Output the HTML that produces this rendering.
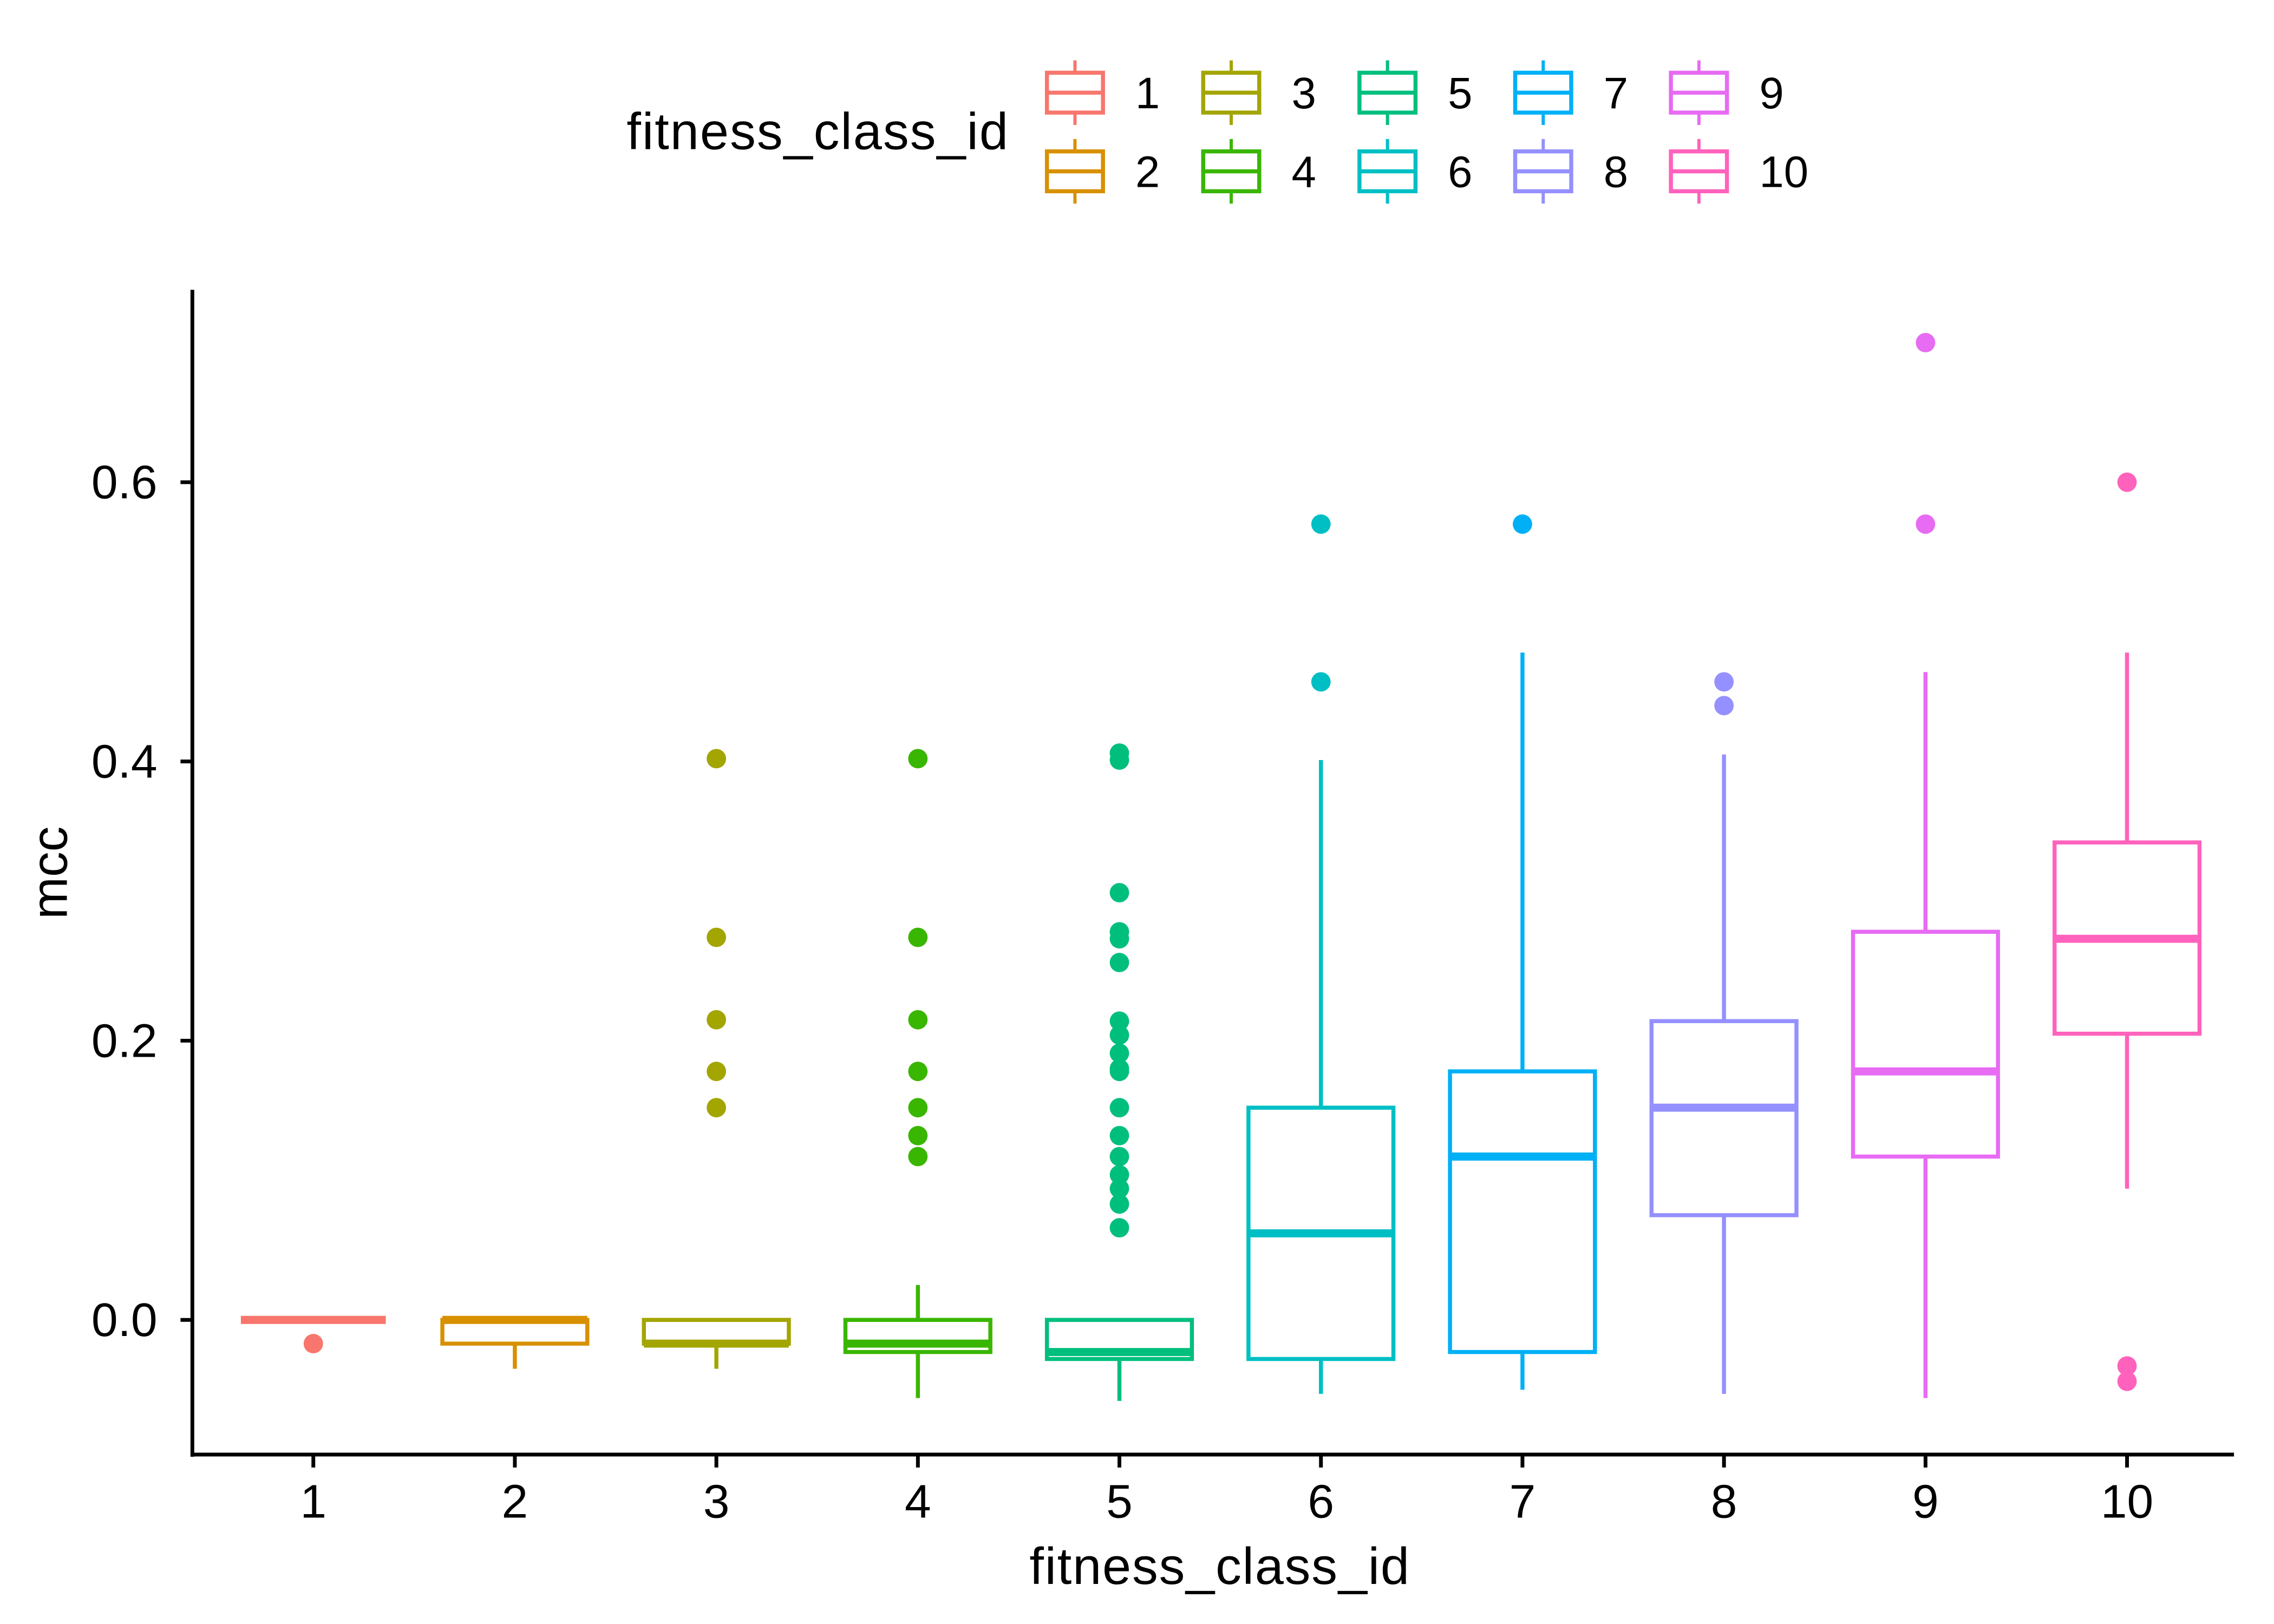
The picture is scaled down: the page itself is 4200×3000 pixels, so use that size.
<!DOCTYPE html>
<html><head><meta charset="utf-8"><style>
html,body{margin:0;padding:0;background:#fff;width:4200px;height:3000px;overflow:hidden}
svg{display:block;font-family:"Liberation Sans",sans-serif}
</style></head><body>
<svg id="chart" width="4200" height="3000" viewBox="0 0 4200 3000" xmlns="http://www.w3.org/2000/svg">
<rect width="4200" height="3000" fill="#fff"/>
<g transform="scale(0.9952)">
<g id="legend"></g>
<g id="plot"></g>
</g>
</svg>
<script>
const categories = ["1","2","3","4","5","6","7","8","9","10"];
const colors = ["#F8766D","#D89000","#A3A500","#39B600","#00BF7D","#00BFC4","#00B0F6","#9590FF","#E76BF3","#FF62BC"];
const q1 = [0, -0.017, -0.017, -0.023, -0.028, -0.028, -0.023, 0.075, 0.117, 0.205];
const medians = [0, 0, -0.017, -0.017, -0.023, 0.062, 0.117, 0.152, 0.178, 0.273];
const q3 = [0, 0, 0, 0, 0, 0.152, 0.178, 0.214, 0.278, 0.342];
const whiskerLow = [0, -0.035, -0.035, -0.056, -0.058, -0.053, -0.05, -0.053, -0.056, 0.094];
const whiskerHigh = [0, 0, 0, 0.025, 0, 0.401, 0.478, 0.405, 0.464, 0.478];
const outliers = [
  [-0.017],
  [],
  [0.402, 0.274, 0.215, 0.178, 0.152],
  [0.402, 0.274, 0.215, 0.178, 0.152, 0.132, 0.117],
  [0.406, 0.401, 0.306, 0.278, 0.273, 0.256, 0.214, 0.204, 0.191, 0.180, 0.178, 0.152, 0.132, 0.117, 0.104, 0.094, 0.083, 0.066],
  [0.570, 0.457],
  [0.570],
  [0.457, 0.440],
  [0.700, 0.570],
  [0.600, -0.033, -0.044]
];
const yTicks = [0.0, 0.2, 0.4, 0.6];
const yTickLabels = ["0.0", "0.2", "0.4", "0.6"];

const NS = "http://www.w3.org/2000/svg";
const X0 = 581.5, DX = 374, Y0 = 2450, KY = 2591.5;
function xPos(i){ return X0 + i*DX; }
function yPos(v){ return Y0 - v*KY; }
function mk(tag, attrs, parent){
  const e = document.createElementNS(NS, tag);
  for (const k in attrs) e.setAttribute(k, attrs[k]);
  parent.appendChild(e); return e;
}
const plot = document.getElementById("plot");
const BW = 269;
const SW = 7.5;

categories.forEach((c, i) => {
  const g = mk("g", {}, plot);
  
  
  const x = xPos(i), col = colors[i];
  const wl = mk("line", {x1:x, x2:x, y1:yPos(q1[i]), y2:yPos(whiskerLow[i]), stroke:col, "stroke-width":SW}, g);
  
  
  const wh = mk("line", {x1:x, x2:x, y1:yPos(q3[i]), y2:yPos(whiskerHigh[i]), stroke:col, "stroke-width":SW}, g);
  
  
  const r = mk("rect", {x:x-BW/2, y:yPos(q3[i]), width:BW, height:Math.max(0, yPos(q1[i])-yPos(q3[i])), fill:"#fff", stroke:col, "stroke-width":SW}, g);
  
  
  const m = mk("line", {x1:x-BW/2, x2:x+BW/2, y1:yPos(medians[i]), y2:yPos(medians[i]), stroke:col, "stroke-width":15}, g);
  
  
  outliers[i].forEach(v => {
    const p = mk("circle", {cx:x, cy:yPos(v), r:18, fill:col}, g);
    
    
  });
});

const ax = mk("g", {}, plot);


const yl = mk("line", {x1:357, x2:357, y1:538, y2:2704, stroke:"#000", "stroke-width":7}, ax);


const xl = mk("line", {x1:354, x2:4146, y1:2700, y2:2700, stroke:"#000", "stroke-width":7}, ax);


yTicks.forEach((v, k) => {
  const t = mk("line", {x1:335, x2:357, y1:yPos(v), y2:yPos(v), stroke:"#000", "stroke-width":7}, ax);
  
  
  const tx = mk("text", {x:292, y:yPos(v)+30, "text-anchor":"end", "font-size":88, fill:"#000"}, ax);
  tx.textContent = yTickLabels[k];
  
  
});
categories.forEach((c, i) => {
  const t = mk("line", {x1:xPos(i), x2:xPos(i), y1:2700, y2:2724, stroke:"#000", "stroke-width":7}, ax);
  
  
  const tx = mk("text", {x:xPos(i), y:2817, "text-anchor":"middle", "font-size":88, fill:"#000"}, ax);
  tx.textContent = c;
  
  
});
const xt = mk("text", {x:2263, y:2940, "text-anchor":"middle", "font-size":96, fill:"#000", textLength:705}, ax);
xt.textContent = "fitness_class_id";


const yt = mk("text", {x:0, y:0, "text-anchor":"middle", "font-size":94, fill:"#000", transform:"translate(124,1620) rotate(-90)"}, ax);
yt.textContent = "mcc";



const lg = document.getElementById("legend");
const lt = mk("text", {x:1163, y:277, "font-size":96, fill:"#000", textLength:708}, lg);
lt.textContent = "fitness_class_id";


const colX = [1995, 2285, 2575, 2864, 3153];
const rowY = [172, 318];
categories.forEach((c, i) => {
  const cx = colX[Math.floor(i/2)], cy = rowY[i%2], col = colors[i];
  const g = mk("g", {}, lg);
  
  
  mk("line", {x1:cx, x2:cx, y1:cy-60, y2:cy+60, stroke:col, "stroke-width":6}, g);
  mk("rect", {x:cx-52, y:cy-37, width:104, height:74, fill:"#fff", stroke:col, "stroke-width":7.5}, g);
  mk("line", {x1:cx-52, x2:cx+52, y1:cy, y2:cy, stroke:col, "stroke-width":7.5}, g);
  const tx = mk("text", {x:cx+112, y:cy+29, "font-size":82, fill:"#000"}, g);
  tx.textContent = c;
  
  
});
</script>
</body></html>
